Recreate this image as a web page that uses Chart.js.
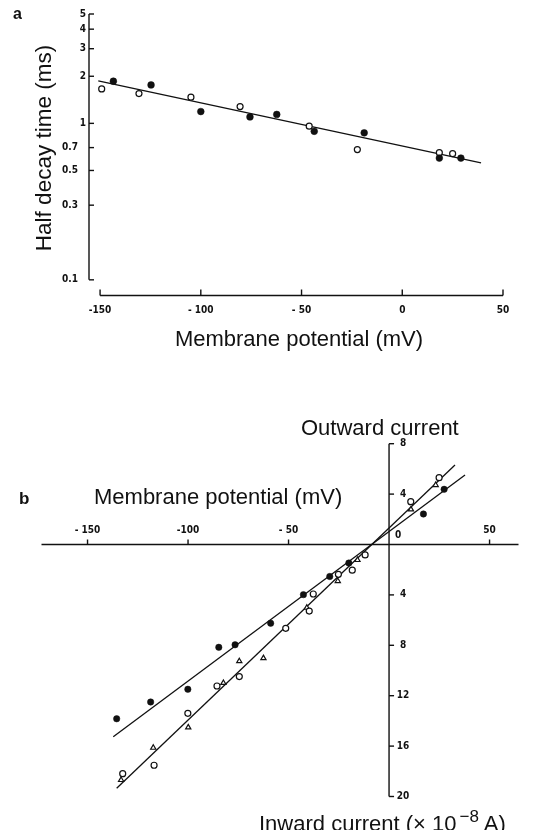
<!DOCTYPE html>
<html>
<head>
<meta charset="utf-8">
<script src="https://cdn.jsdelivr.net/npm/chart.js@4.4.1/dist/chart.umd.min.js"></script>
<style>
  body { margin: 0; background: #fff; width: 533px; height: 830px; position: relative; overflow: hidden;
         font-family: "Liberation Sans", Arial, sans-serif; color: #111; }
  canvas { position: absolute; left: 0; }
  .t { position: absolute; white-space: nowrap; line-height: 1; }
  .rot { position: absolute; white-space: nowrap; line-height: 1; transform: translate(-50%, -50%) rotate(-90deg); }
</style>
</head>
<body>
<canvas id="chartA" width="533" height="370" style="top:0"></canvas>
<canvas id="chartB" width="533" height="460" style="top:370px"></canvas>

<div class="t" style="left:13px;top:6px;font-size:16px;font-weight:bold">a</div>
<div class="rot" style="left:44px;top:148px;font-size:22.5px">Half decay time (ms)</div>
<div class="t" style="left:299px;top:328px;font-size:22px;transform:translateX(-50%)">Membrane potential (mV)</div>

<div class="t" style="left:19px;top:490px;font-size:17px;font-weight:bold">b</div>
<div class="t" style="left:94px;top:486px;font-size:22px">Membrane potential (mV)</div>
<div class="t" style="left:301px;top:417px;font-size:22px">Outward current</div>
<div class="t" style="left:259px;top:808px;font-size:22px">Inward current (× 10<sup style="font-size:17px;vertical-align:9px;margin-left:3px">−8</sup> A)</div>

<script>
// ---- panel a: half decay time (ms) vs membrane potential (mV)
const aOpenV   = [-149.2, -130.7, -104.9, -80.5, -46.2, -22.3, 18.4, 25.0];
const aOpenT   = [1.66, 1.55, 1.47, 1.28, 0.96, 0.68, 0.65, 0.64];
const aFilledV = [-143.4, -124.7, -100.0, -75.6, -62.3, -43.7, -18.9, 18.4, 29.1];
const aFilledT = [1.86, 1.76, 1.19, 1.10, 1.14, 0.89, 0.87, 0.60, 0.60];
const aFitV    = [-150.9, 39.1];
const aFitT    = [1.87, 0.56];
const aYTicks  = [5, 4, 3, 2, 1, 0.7, 0.5, 0.3, 0.1];
const aYLabels = ['5', '4', '3', '2', '1', '0.7', '0.5', '0.3', '0.1'];
const aXTicks  = [-150, -100, -50, 0, 50];
const aXLabels = ['-150', '- 100', '- 50', '0', '50'];

// ---- panel b: current (x 10^-8 A) vs membrane potential (mV)
const bFilledV = [-135.5, -118.6, -100.1, -84.7, -76.6, -58.9, -42.6, -29.5, -20.0, 17.1, 27.4];
const bFilledI = [-13.83, -12.50, -11.49, -8.16, -7.96, -6.25, -3.98, -2.54, -1.47, 2.42, 4.38];
const bOpenV   = [-132.5, -116.9, -100.1, -85.6, -74.5, -51.4, -39.7, -37.7, -25.2, -18.3, -11.9, 10.8, 24.9];
const bOpenI   = [-18.19, -17.52, -13.40, -11.23, -10.48, -6.65, -5.28, -3.93, -2.37, -2.04, -0.83, 3.40, 5.30];
const bTriV    = [-133.3, -117.3, -99.9, -82.4, -74.5, -62.5, -40.9, -25.5, -15.7, 10.9, 23.2];
const bTriI    = [-18.69, -16.13, -14.51, -10.99, -9.26, -9.02, -5.02, -2.90, -1.23, 2.79, 4.72];
const bFitFilledV = [-137.2, 37.8];
const bFitFilledI = [-15.25, 5.52];
const bFitOpenV   = [-135.5, 32.8];
const bFitOpenI   = [-19.35, 6.31];
const bXTicks  = [-150, -100, -50, 0, 50];
const bXLabels = ['- 150', '-100', '- 50', '0', '50'];
const bYTicks  = [8, 4, -4, -8, -12, -16, -20];
const bYLabels = ['8', '4', '4', '8', '12', '16', '20'];

const tickFont = 'bold 10px "Liberation Sans Narrow", "DejaVu Sans Condensed", sans-serif';
const ink = '#111';

const pts = (xs, ys) => xs.map((x, i) => ({ x: x, y: ys[i] }));

const baseOptions = (xMin, xMax, yType, yMin, yMax, padding) => ({
    responsive: false,
    animation: false,
    layout: { padding: padding },
    plugins: { legend: { display: false }, tooltip: { enabled: false } },
    scales: {
        x: { type: 'linear', min: xMin, max: xMax, display: false },
        y: { type: yType, min: yMin, max: yMax, display: false }
    }
});

// axes for panel a: y axis at left edge, x axis detached below
const axesA = {
    id: 'axesA',
    afterDraw(chart) {
        const { ctx, chartArea, scales: { x, y } } = chart;
        ctx.save();
        ctx.strokeStyle = ink;
        ctx.fillStyle = ink;
        ctx.lineWidth = 1.4;
        ctx.font = tickFont;

        const yl = chartArea.left;
        ctx.beginPath();
        ctx.moveTo(yl, y.getPixelForValue(aYTicks[0]));
        ctx.lineTo(yl, y.getPixelForValue(aYTicks[aYTicks.length - 1]));
        ctx.stroke();
        ctx.textBaseline = 'middle';
        ctx.textAlign = 'right';
        aYTicks.forEach((t, i) => {
            const py = y.getPixelForValue(t);
            ctx.beginPath();
            ctx.moveTo(yl, py);
            ctx.lineTo(yl + 5, py);
            ctx.stroke();
            const off = aYLabels[i].indexOf('.') >= 0 ? 11 : 3;
            ctx.fillText(aYLabels[i], yl - off, py);
        });

        const xb = chartArea.bottom;
        ctx.beginPath();
        ctx.moveTo(x.getPixelForValue(aXTicks[0]), xb);
        ctx.lineTo(x.getPixelForValue(aXTicks[aXTicks.length - 1]), xb);
        ctx.stroke();
        ctx.textAlign = 'center';
        aXTicks.forEach((t, i) => {
            const px = x.getPixelForValue(t);
            ctx.beginPath();
            ctx.moveTo(px, xb);
            ctx.lineTo(px, xb - 6);
            ctx.stroke();
            ctx.fillText(aXLabels[i], px, xb + 15);
        });
        ctx.restore();
    }
};

// axes for panel b: crossing at the origin
const axesB = {
    id: 'axesB',
    beforeDatasetsDraw(chart) {
        const { ctx, chartArea, scales: { x, y } } = chart;
        const ox = x.getPixelForValue(0);
        const oy = y.getPixelForValue(0);
        ctx.save();
        ctx.strokeStyle = ink;
        ctx.fillStyle = ink;
        ctx.lineWidth = 1.4;
        ctx.font = tickFont;

        ctx.beginPath();
        ctx.moveTo(chartArea.left, oy);
        ctx.lineTo(chartArea.right, oy);
        ctx.moveTo(ox, y.getPixelForValue(bYTicks[0]));
        ctx.lineTo(ox, y.getPixelForValue(bYTicks[bYTicks.length - 1]));
        ctx.stroke();

        ctx.textAlign = 'center';
        ctx.textBaseline = 'middle';
        bXTicks.forEach((t, i) => {
            const px = x.getPixelForValue(t);
            if (t === 0) {
                ctx.fillText(bXLabels[i], px + 9, oy - 9);
                return;
            }
            ctx.beginPath();
            ctx.moveTo(px, oy);
            ctx.lineTo(px, oy - 5);
            ctx.stroke();
            ctx.fillText(bXLabels[i], px, oy - 14);
        });
        bYTicks.forEach((t, i) => {
            const py = y.getPixelForValue(t);
            ctx.beginPath();
            ctx.moveTo(ox, py);
            ctx.lineTo(ox + 5, py);
            ctx.stroke();
            ctx.fillText(bYLabels[i], ox + 14, py);
        });
        ctx.restore();
    }
};

const lineDs = (xs, ys) => ({
    data: pts(xs, ys), showLine: true, pointRadius: 0,
    borderColor: ink, borderWidth: 1.3, fill: false
});
const filledDs = (xs, ys, r) => ({
    data: pts(xs, ys), pointRadius: r, pointBackgroundColor: ink,
    pointBorderColor: ink, pointBorderWidth: 0.5
});
const openDs = (xs, ys, r, style) => ({
    data: pts(xs, ys), pointRadius: r, pointStyle: style || 'circle',
    pointBackgroundColor: '#fff', pointBorderColor: ink, pointBorderWidth: 1.2
});

new Chart(document.getElementById('chartA'), {
    type: 'scatter',
    data: {
        datasets: [
            filledDs(aFilledV, aFilledT, 3.4),
            openDs(aOpenV, aOpenT, 3),
            lineDs(aFitV, aFitT)
        ]
    },
    options: baseOptions(-155.5, 50, 'logarithmic', 0.0794, 5,
        { left: 89, right: 30, top: 14, bottom: 74.5 }),
    plugins: [axesA]
});

new Chart(document.getElementById('chartB'), {
    type: 'scatter',
    data: {
        datasets: [
            filledDs(bFilledV, bFilledI, 3.2),
            openDs(bOpenV, bOpenI, 3),
            openDs(bTriV, bTriI, 3, 'triangle'),
            lineDs(bFitFilledV, bFitFilledI),
            lineDs(bFitOpenV, bFitOpenI)
        ]
    },
    options: baseOptions(-172.9, 64.4, 'linear', -20, 8,
        { left: 41.5, right: 14.5, top: 73.7, bottom: 33.5 }),
    plugins: [axesB]
});
</script>
</body>
</html>
